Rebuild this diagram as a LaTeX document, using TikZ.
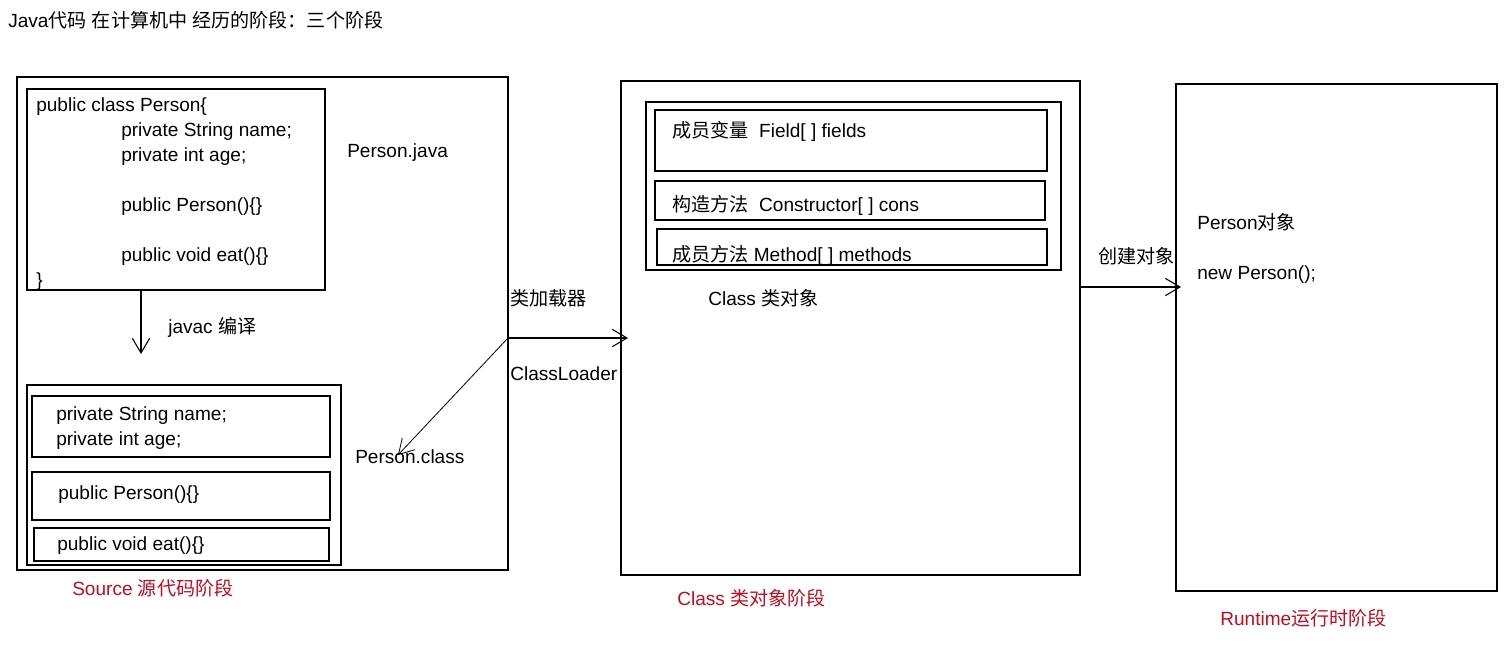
\documentclass[tikz,border=0pt]{standalone}
\usepackage{fontspec}
\setmainfont{Liberation Sans}
\newfontfamily\cjk{Noto Sans CJK SC}
\newcommand{\zh}[1]{{\cjk #1}}
\usetikzlibrary{arrows.meta,fit}
\definecolor{stagered}{RGB}{192,12,32}

\begin{document}
\begin{tikzpicture}[x=0.75pt,y=-0.75pt,>={Straight Barb[length=11pt,width=13pt]},
		box/.style={rectangle,draw,line width=0.8pt,inner sep=0pt},
		txt/.style={anchor=base west,inner sep=0pt,font=\fontsize{14.3pt}{17pt}\selectfont},
		stage/.style={txt,text=stagered}]
		\useasboundingbox (0,0) rectangle (1508,669);
		\node[txt]	(title)	at (8,27)	{Java\zh{代码} \zh{在计算机中} \zh{经历的阶段：三个阶段}};
		% Source
		\node[box,fit={(17,77) (508,570)}]	(src)	{};
		\node[box,fit={(27,89) (325,290)}]	(code)	{};
		\node[txt]	(l_0)	at (36,111)	{public class Person\{};
		\node[txt]	(l_1)	at (121,136.5)	{private String name;};
		\node[txt]	(l_2)	at (121,161)	{private int age;};
		\node[txt]	(l_3)	at (121,211)	{public Person()\{\}};
		\node[txt]	(l_4)	at (121,261)	{public void eat()\{\}};
		\node[txt]	(l_5)	at (36,286)	{\}};
		\node[txt]	(pjava)	at (347,157)	{Person.java};
		\node[txt]	(javac)	at (168,333)	{javac \zh{编译}};
		\node[box,fit={(27,385) (341,565)}]	(bc)	{};
		\node[box,fit={(32,396) (330,457)}]	(bc_f)	{};
		\node[box,fit={(32,472) (330,520)}]	(bc_c)	{};
		\node[box,fit={(34,528) (329,561)}]	(bc_m)	{};
		\node[txt]	(f_0)	at (56,420)	{private String name;};
		\node[txt]	(f_1)	at (56,445)	{private int age;};
		\node[txt]	(c_0)	at (58,499)	{public Person()\{\}};
		\node[txt]	(m_0)	at (57,550)	{public void eat()\{\}};
		\node[txt]	(pclass)	at (355,463)	{Person.class};
		\node[stage]	(s_src)	at (72,595)	{Source \zh{源代码阶段}};
		% Class
		\node[box,fit={(621,81) (1080,575)}]	(cls)	{};
		\node[box,fit={(646,102) (1061,270)}]	(cls_in)	{};
		\node[box,fit={(655,110) (1047,171)}]	(cls_f)	{};
		\node[box,fit={(655,181) (1045,220)}]	(cls_c)	{};
		\node[box,fit={(657,229) (1047,265)}]	(cls_m)	{};
		\node[txt]	(t_f)	at (672,137)	{\zh{成员变量}\ \ Field[ ] fields};
		\node[txt]	(t_c)	at (672,211)	{\zh{构造方法}\ \ Constructor[ ] cons};
		\node[txt]	(t_m)	at (672,261)	{\zh{成员方法} Method[ ] methods};
		\node[txt]	(clsobj)	at (708,305)	{Class \zh{类对象}};
		\node[stage]	(s_cls)	at (677,605)	{Class \zh{类对象阶段}};
		\node[txt]	(loader)	at (510,305)	{\zh{类加载器}};
		\node[txt]	(loader_en)	at (510,380)	{ClassLoader};
		% Runtime
		\node[box,fit={(1176,84) (1497,591)}]	(rt)	{};
		\node[txt]	(pobj)	at (1197,229)	{Person\zh{对象}};
		\node[txt]	(pnew)	at (1197,279)	{new Person();};
		\node[txt]	(create)	at (1098,263)	{\zh{创建对象}};
		\node[stage]	(s_rt)	at (1220,625)	{Runtime\zh{运行时阶段}};
		\coordinate	(j_1)	at (141,354);
		\coordinate	(ld)	at (508,338);
		\coordinate	(ld_1)	at (628,338);
		\coordinate	(ld_2)	at (398,455);
		\coordinate	(cr)	at (1080,287);
		\coordinate	(cr_1)	at (1181,287);
		\draw[->,line width=0.8pt]	(code.south -| j_1)	--	(j_1);
		\draw[->,line width=0.8pt]	(ld)	--	(ld_1);
		\draw[->,line width=0.6pt]	(ld)	--	(ld_2);
		\draw[->,line width=0.8pt]	(cr)	--	(cr_1);
	\end{tikzpicture}
\end{document}
